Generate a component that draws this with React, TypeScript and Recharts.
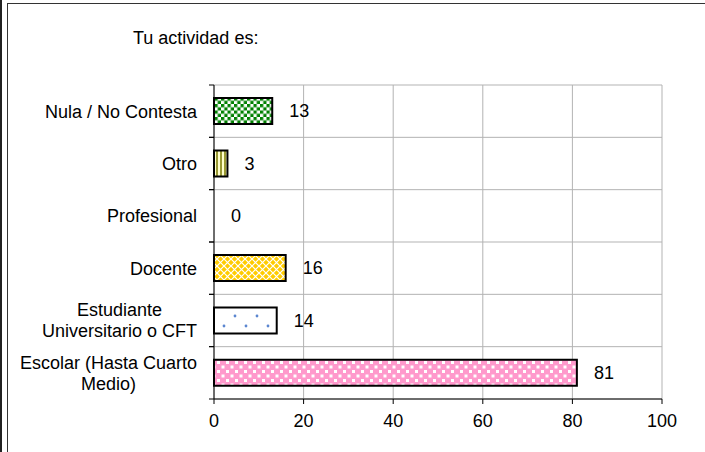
import React from 'react';
import { BarChart, Bar, XAxis, YAxis, CartesianGrid, LabelList, Cell } from 'recharts';

const categories = [
  'Nula / No Contesta',
  'Otro',
  'Profesional',
  'Docente',
  'Estudiante\nUniversitario o CFT',
  'Escolar (Hasta Cuarto\nMedio)',
];
const values = [13, 3, 0, 16, 14, 81];
const xTicks = [0, 20, 40, 60, 80, 100];

const data = categories.map((name, i) => ({ name, value: values[i] }));

const FONT = '"Liberation Sans", Arial, sans-serif';
const patternIds = ['pNula', 'pOtro', 'pProf', 'pDoc', 'pEst', 'pEsc'];

let measureCtx: CanvasRenderingContext2D | null = null;
function textWidth(s: string) {
  if (!measureCtx) {
    measureCtx = document.createElement('canvas').getContext('2d');
  }
  if (!measureCtx) return s.length * 9;
  measureCtx.font = '18px "Liberation Sans", Arial, sans-serif';
  return measureCtx.measureText(s).width;
}

function CategoryTick(props: any) {
  const { x, y, payload } = props;
  const lines = String(payload.value).split('\n');
  const half = payload.offset ?? 26;
  const maxW = Math.max(...lines.map(textWidth));
  const cx = x - maxW / 2;
  return (
    <g>
      <line x1={x + 12} x2={x + 17} y1={y - half} y2={y - half} stroke="#000" />
      <line x1={x + 12} x2={x + 17} y1={y + half} y2={y + half} stroke="#000" />
      {lines.map((ln, i) => (
        <text
          key={i}
          x={lines.length > 1 ? cx : x}
          y={y + (i - (lines.length - 1) / 2) * 21}
          dy="0.355em"
          textAnchor={lines.length > 1 ? 'middle' : 'end'}
          fontSize={18}
          fontFamily={FONT}
          fill="#000"
        >
          {ln}
        </text>
      ))}
    </g>
  );
}

export default function App() {
  return (
    <div style={{ position: 'absolute', left: 0, top: 0, width: 705, height: 452, overflow: 'hidden', background: '#fff', fontFamily: FONT }}>
      <style>{'html,body{overflow:hidden;}'}</style>
      <div style={{ position: 'absolute', left: 0, top: 0, width: 2, height: 452, background: '#222' }} />
      <div style={{ position: 'absolute', left: 7, top: 3, width: 698, height: 449, borderLeft: '1px solid #333', borderTop: '1px solid #333', boxSizing: 'border-box' }} />
      <div style={{ position: 'absolute', left: 133, top: 27, fontSize: 18, lineHeight: '22px', color: '#000' }}>Tu actividad es:</div>
      <div style={{ position: 'absolute', left: 0, top: 0 }}>
        <BarChart
          width={705}
          height={452}
          data={data}
          layout="vertical"
          margin={{ top: 85, right: 43, bottom: 13, left: 14 }}
          barCategoryGap="25%"
          style={{ fontFamily: FONT }}
        >
          <defs>
            <pattern id="pNula" width="6.5" height="6.5" patternUnits="userSpaceOnUse">
              <rect width="6.5" height="6.5" fill="#ffffff" />
              <rect x="0" y="0" width="3.25" height="3.25" fill="#008000" />
              <rect x="3.25" y="3.25" width="3.25" height="3.25" fill="#008000" />
            </pattern>
            <pattern id="pOtro" width="4" height="4" patternUnits="userSpaceOnUse">
              <rect width="4" height="4" fill="#ffffcc" />
              <rect x="0" y="0" width="2" height="4" fill="#999933" />
            </pattern>
            <pattern id="pProf" width="6" height="6" patternUnits="userSpaceOnUse">
              <rect width="6" height="6" fill="#cccccc" />
            </pattern>
            <pattern id="pDoc" width="7" height="7" patternUnits="userSpaceOnUse">
              <rect width="7" height="7" fill="#ffcc00" />
              <path d="M0,0 L7,7 M7,0 L0,7" stroke="#ffffff" strokeWidth="1.2" />
            </pattern>
            <pattern id="pEst" width="22" height="20" patternUnits="userSpaceOnUse">
              <rect width="22" height="20" fill="#ffffff" />
              <circle cx="4" cy="6" r="1.4" fill="#5b86d0" />
              <circle cx="15" cy="16" r="1.4" fill="#5b86d0" />
            </pattern>
            <pattern id="pEsc" width="9" height="9" patternUnits="userSpaceOnUse">
              <rect width="9" height="9" fill="#ff99cc" />
              <rect x="1" y="1" width="3" height="3" fill="#ffffff" />
              <rect x="5.5" y="5.5" width="3" height="3" fill="#ffffff" />
            </pattern>
          </defs>
          <CartesianGrid
            stroke="#b3b3b3"
            horizontalCoordinatesGenerator={({ offset }: any) =>
              categories.map((_, i) => offset.top + (i * offset.height) / categories.length).concat(offset.top + offset.height)
            }
          />
          <XAxis
            type="number"
            domain={[0, 100]}
            ticks={xTicks}
            height={40}
            tickSize={5}
            tickMargin={10}
            axisLine={{ stroke: '#000' }}
            tickLine={{ stroke: '#000' }}
            tick={{ fill: '#000', fontSize: 18, fontFamily: FONT }}
            interval={0}
          />
          <YAxis
            type="category"
            dataKey="name"
            width={200}
            tickSize={5}
            tickMargin={12}
            axisLine={{ stroke: '#000' }}
            tickLine={false}
            tick={<CategoryTick />}
            interval={0}
          />
          <Bar dataKey="value" stroke="#000" strokeWidth={2} minPointSize={0.01} isAnimationActive={false}>
            {data.map((d, i) => (
              <Cell key={i} fill={`url(#${patternIds[i]})`} stroke={d.value === 0 ? 'none' : '#000'} />
            ))}
            <LabelList dataKey="value" position="right" offset={17} fill="#000" fontSize={18} fontFamily={FONT} />
          </Bar>
        </BarChart>
      </div>
    </div>
  );
}
